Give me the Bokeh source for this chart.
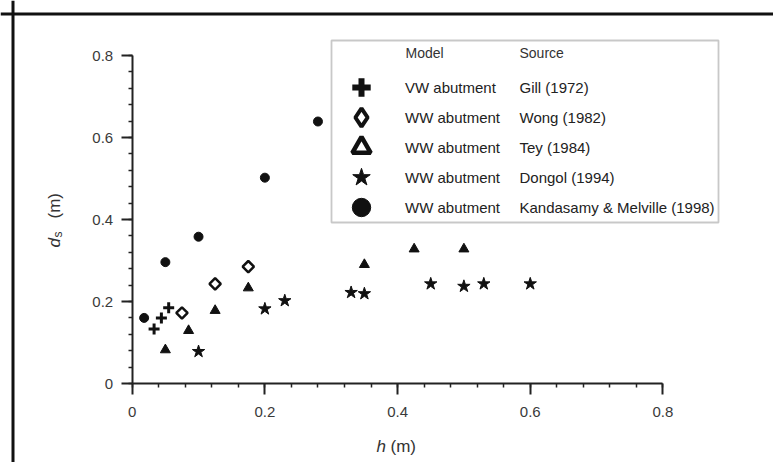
import numpy as np
from bokeh.plotting import figure
from bokeh.models import (Range1d, FixedTicker, Legend, LegendItem, Label,
                          BoxAnnotation, Span)
from bokeh.embed import file_html
from bokeh.resources import INLINE

# ---------------- data ----------------
gill_h = [0.033, 0.044, 0.055]
gill_ds = [0.133, 0.160, 0.185]

wong_h = [0.075, 0.125, 0.175]
wong_ds = [0.172, 0.243, 0.285]

tey_h = [0.050, 0.085, 0.125, 0.175, 0.350, 0.425, 0.500]
tey_ds = [0.082, 0.129, 0.178, 0.233, 0.290, 0.328, 0.328]

dongol_h = [0.100, 0.200, 0.230, 0.330, 0.350, 0.450, 0.500, 0.530, 0.600]
dongol_ds = [0.078, 0.182, 0.202, 0.222, 0.219, 0.243, 0.237, 0.243, 0.243]

km_h = [0.018, 0.050, 0.100, 0.200, 0.280]
km_ds = [0.160, 0.296, 0.358, 0.502, 0.639]

models = ["VW abutment", "WW abutment", "WW abutment", "WW abutment", "WW abutment"]
sources = ["Gill (1972)", "Wong (1982)", "Tey (1984)", "Dongol (1994)",
           "Kandasamy & Melville (1998)"]

x_ticks = [0, 0.2, 0.4, 0.6, 0.8]
x_tick_labels = ["0", "0.2", "0.4", "0.6", "0.8"]
y_ticks = [0, 0.2, 0.4, 0.6, 0.8]
y_tick_labels = ["0", "0.2", "0.4", "0.6", "0.8"]

FONT = "Liberation Sans"
INK = "#111111"

# plot area: h = 0 at x px 131.7, 663.4 px per metre; ds = 0 at y px 383, 410 px per metre
W, H = 773, 462
X0, XS = 131.7, 663.4
Y0, YS = 383.0, 410.0

p = figure(width=W, height=H,
           x_range=Range1d(-X0 / XS, (W - X0) / XS),
           y_range=Range1d(-(H - Y0) / YS, Y0 / YS),
           output_backend="svg", toolbar_location=None,
           min_border_left=0, min_border_right=0, min_border_top=0, min_border_bottom=0)
p.xgrid.visible = False
p.ygrid.visible = False
p.outline_line_color = None
p.background_fill_color = "white"
p.border_fill_color = "white"

minor = [round(v, 3) for v in np.arange(0, 0.8001, 0.04)]
for ax, ticks, labels in ((p.xaxis[0], x_ticks, x_tick_labels), (p.yaxis[0], y_ticks, y_tick_labels)):
    ax.fixed_location = 0
    ax.bounds = (0, 0.8)
    ax.ticker = FixedTicker(ticks=ticks, minor_ticks=minor)
    ax.major_label_overrides = {t: l for t, l in zip(ticks, labels)}
    ax.axis_line_width = 2
    ax.axis_line_color = "#222222"
    ax.major_tick_line_color = "#222222"
    ax.minor_tick_line_color = "#222222"
    ax.major_tick_line_width = 2
    ax.minor_tick_line_width = 1.5
    ax.major_tick_out = 11
    ax.major_tick_in = 0
    ax.minor_tick_out = 4
    ax.minor_tick_in = 0
    ax.major_label_text_font = FONT
    ax.major_label_text_font_size = "15px"
    ax.major_label_text_color = "#3a3a3a"
p.xaxis.major_label_standoff = 12
p.yaxis.major_label_standoff = 8

# ---------------- data markers ----------------
p.scatter(gill_h, gill_ds, marker="cross", size=11, line_width=3, line_color=INK)
p.scatter(wong_h, wong_ds, marker="square", angle=np.pi / 4, size=8, line_width=2.5,
          line_color=INK, fill_color="white")
p.scatter(tey_h, tey_ds, marker="triangle", size=10, line_color=INK, fill_color=INK)
p.scatter(dongol_h, dongol_ds, marker="star", size=13, line_color=INK, fill_color=INK)
p.scatter(km_h, km_ds, marker="circle", size=9, line_color=INK, fill_color=INK)

# ---------------- legend (one Legend per row, keys drawn by Bokeh) ----------------
nan = [np.nan]
keys = [
    p.scatter(nan, nan, marker="cross", line_width=6, line_color=INK),
    p.scatter(nan, nan, marker="diamond", line_width=4, line_color=INK, fill_color="white"),
    p.scatter(nan, nan, marker="triangle", line_width=4.5, line_color=INK, fill_color="white"),
    p.scatter(nan, nan, marker="star", line_color=INK, fill_color=INK),
    p.scatter(nan, nan, marker="circle", line_color=INK, fill_color=INK),
]
ROW0, ROWSTEP, KEYX, GLYPH = 87, 30, 361, 46
for i, (m, r, s) in enumerate(zip(models, keys, sources)):
    cy = ROW0 + ROWSTEP * i
    lg = Legend(items=[LegendItem(label=m, renderers=[r])],
                location=(KEYX - GLYPH // 2, H - (cy + GLYPH // 2)),
                glyph_width=GLYPH, glyph_height=GLYPH, spacing=0, padding=0, margin=0,
                label_standoff=405 - KEYX - GLYPH // 2, border_line_color=None,
                background_fill_alpha=0,
                label_text_font=FONT, label_text_font_size="15px",
                label_text_color="#222222")
    p.add_layout(lg, "center")
    p.add_layout(Label(x=519, y=cy, x_units="canvas", y_units="canvas", text=s,
                       text_font=FONT, text_font_size="15px", text_color="#222222",
                       text_baseline="middle"))

p.add_layout(BoxAnnotation(left=331, right=718, top=40, bottom=222,
                           left_units="canvas", right_units="canvas",
                           top_units="canvas", bottom_units="canvas",
                           fill_alpha=0, line_color="#4a4a4a", line_width=1.8))
p.add_layout(Label(x=405, y=52, x_units="canvas", y_units="canvas", text="Model",
                   text_font=FONT, text_font_size="14px", text_color="#333333",
                   text_baseline="middle"))
p.add_layout(Label(x=519, y=52, x_units="canvas", y_units="canvas", text="Source",
                   text_font=FONT, text_font_size="14px", text_color="#333333",
                   text_baseline="middle"))

# ---------------- axis titles ----------------
p.add_layout(Label(x=376, y=446, x_units="canvas", y_units="canvas", text="h",
                   text_font=FONT, text_font_size="17px", text_font_style="italic",
                   text_color="#333333", text_baseline="alphabetic"))
p.add_layout(Label(x=390, y=446, x_units="canvas", y_units="canvas", text="(m)",
                   text_font=FONT, text_font_size="17px",
                   text_color="#333333", text_baseline="alphabetic"))
p.add_layout(Label(x=54, y=247, x_units="canvas", y_units="canvas", text="d",
                   angle=np.pi / 2, text_font=FONT, text_font_size="17px",
                   text_font_style="italic", text_color="#333333", text_baseline="alphabetic"))
p.add_layout(Label(x=57, y=237, x_units="canvas", y_units="canvas", text="s",
                   angle=np.pi / 2, text_font=FONT, text_font_size="12px",
                   text_color="#333333", text_baseline="alphabetic"))
p.add_layout(Label(x=54, y=218, x_units="canvas", y_units="canvas", text="(m)",
                   angle=np.pi / 2, text_font=FONT, text_font_size="17px",
                   text_color="#333333", text_baseline="alphabetic"))

# ---------------- outer frame: left and top edges (the rest lies off the picture) ----------------
p.add_layout(Span(location=12.5, location_units="canvas", dimension="height",
                  line_color="#111111", line_width=3))
p.add_layout(Span(location=13.5, location_units="canvas", dimension="width",
                  line_color="#111111", line_width=3))

open("out.html", "w").write(file_html(p, INLINE))
